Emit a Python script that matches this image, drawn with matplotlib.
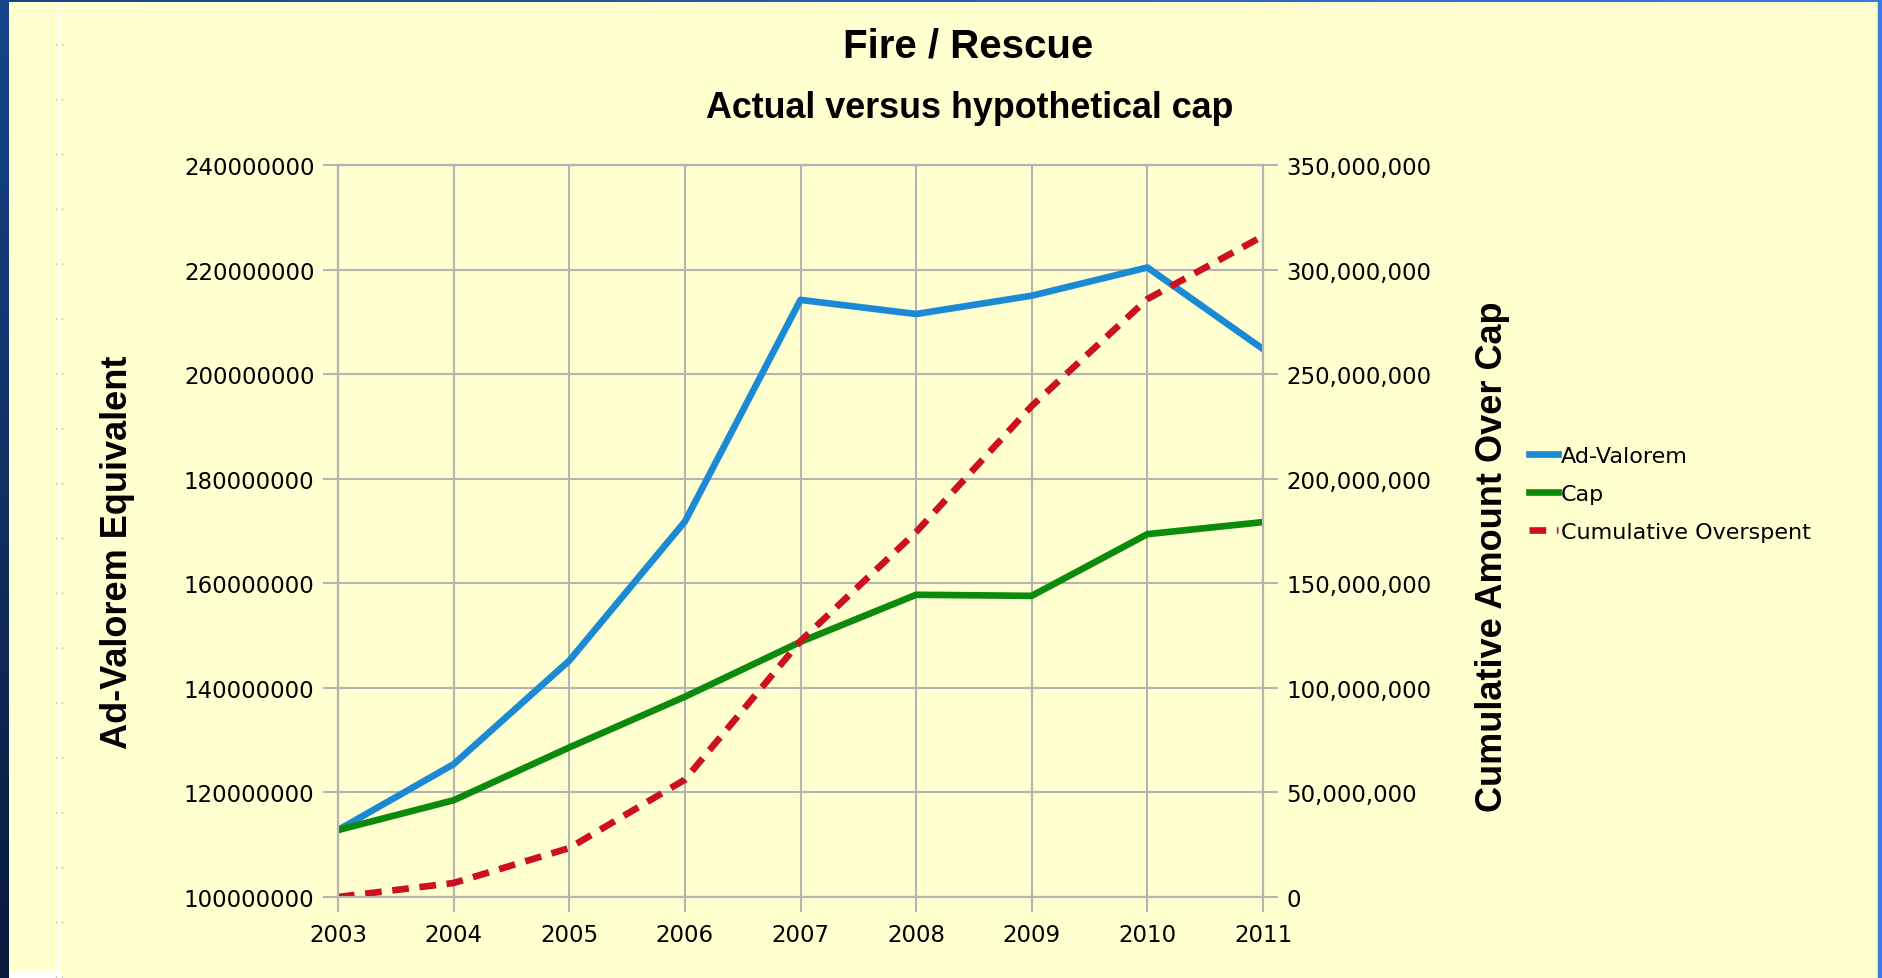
import numpy as np
import matplotlib
matplotlib.use("Agg")
import matplotlib.pyplot as plt
from matplotlib.patches import Rectangle
from matplotlib.lines import Line2D

# 数据（从图上读出来的）
years = ["2003", "2004", "2005", "2006", "2007", "2008", "2009", "2010", "2011"]
ad_valorem = [112.8e6, 125.4e6, 145.2e6, 171.8e6, 214.2e6, 211.5e6, 215.0e6, 220.4e6, 204.8e6]
cap = [112.8e6, 118.5e6, 128.6e6, 138.3e6, 148.8e6, 157.8e6, 157.6e6, 169.4e6, 171.7e6]
cum_over = [0, 6.7e6, 23.4e6, 56.1e6, 122.4e6, 174.5e6, 234.8e6, 285.9e6, 316.0e6]

left_ticks = [100000000, 120000000, 140000000, 160000000, 180000000, 200000000, 220000000, 240000000]
right_ticks = [0, 50000000, 100000000, 150000000, 200000000, 250000000, 300000000, 350000000]

W, H = 1883, 979
bg = "#ffffd0"
grid_c = "#b4b4b4"

plt.rcParams['font.family'] = ['DejaVu Sans']

fig = plt.figure(figsize=(W / 100, H / 100), dpi=100, facecolor=bg)

# 边框装饰
def px_rect(x0, y0, w, h, color):
    fig.patches.append(Rectangle((x0 / W, 1 - (y0 + h) / H), w / W, h / H,
                                 transform=fig.transFigure, color=color, zorder=-1))

grad_ax = fig.add_axes([0, 0, 9 / W, 1])
grad_ax.imshow(np.linspace(0, 1, 100).reshape(-1, 1), aspect='auto',
               cmap=matplotlib.colors.LinearSegmentedColormap.from_list("b", ["#17458a", "#0a1a3c"]))
grad_ax.axis("off")
top_ax = fig.add_axes([0, 1 - 3 / H, 1, 3 / H])
top_ax.imshow(np.linspace(0, 1, 100).reshape(1, -1), aspect='auto',
              cmap=matplotlib.colors.LinearSegmentedColormap.from_list("t", ["#17458a", "#3c7bd8"]))
top_ax.axis("off")
px_rect(1878, 0, 5, H, "#3b7bd9")
px_rect(9, 972, 52, 7, "white")
fig.add_artist(Line2D([58.5 / W, 58.5 / W], [0, 1 - 3 / H], transform=fig.transFigure,
                      color="white", lw=0.7))
for xx, off in ((56, 0), (62, 8)):
    fig.add_artist(Line2D([xx / W, xx / W], [0, 1 - (33 + off) / H], transform=fig.transFigure,
                          color="#c8c8b8", lw=1.0, linestyle=(0, (1.5, 38))))

x = np.arange(len(years))

ax = fig.add_axes([338 / W, 1 - 898 / H, (1263 - 338) / W, (898 - 166) / H])
ax.set_facecolor(bg)
ax.plot(x, ad_valorem, color="#1a8ad4", lw=4.8, label="Ad-Valorem")
ax.plot(x, cap, color="#0c8a0c", lw=4.8, label="Cap")
ax.set_xlim(0, len(years) - 1)
ax.set_ylim(100e6, 240e6)
ax.set_yticks(left_ticks)
ax.set_yticklabels([str(v) for v in left_ticks])
ax.set_xticks(x)
ax.set_xticklabels(years)
ax.grid(True, color=grid_c, lw=1.5)
ax.set_axisbelow(True)

ax2 = ax.twinx()
ax2.plot(x, cum_over, color="#cc1020", lw=4.8, dashes=[2.5, 1.6], label="Cumulative Overspent")
ax2.set_ylim(0, 350e6)
ax2.set_yticks(right_ticks)
ax2.set_yticklabels([f"{v:,}" for v in right_ticks])

for a in (ax, ax2):
    for s in a.spines.values():
        s.set_color(grid_c)
        s.set_linewidth(1.5)
    a.tick_params(axis="both", length=11, width=1.5, color=grid_c, labelsize=16.5, pad=6)
ax.tick_params(axis="x", pad=8)

title_font = ['Liberation Sans', 'DejaVu Sans']
fig.text(968 / W, 1 - 46 / H, "Fire / Rescue", ha="center", va="center",
         fontsize=29, fontweight="bold", family=title_font)
fig.text(970 / W, 1 - 108 / H, "Actual versus hypothetical cap", ha="center", va="center",
         fontsize=25.8, fontweight="bold", family=title_font)
fig.text(118 / W, 1 - 552 / H, "Ad-Valorem Equivalent", ha="center", va="center",
         rotation=90, fontsize=26, fontweight="bold", family=title_font)
fig.text(1493 / W, 1 - 557 / H, "Cumulative Amount Over Cap", ha="center", va="center",
         rotation=90, fontsize=26, fontweight="bold", family=title_font)

h1, l1 = ax.get_legend_handles_labels()
h2, l2 = ax2.get_legend_handles_labels()
fig.legend(h1 + h2, l1 + l2, loc="center left", bbox_to_anchor=(1529 / W, 1 - 495 / H),
           frameon=False, fontsize=16, handlelength=1.3, handletextpad=0.15,
           labelspacing=0.8, borderpad=0, borderaxespad=0)

fig.savefig("out.png", dpi=100, facecolor=bg)
